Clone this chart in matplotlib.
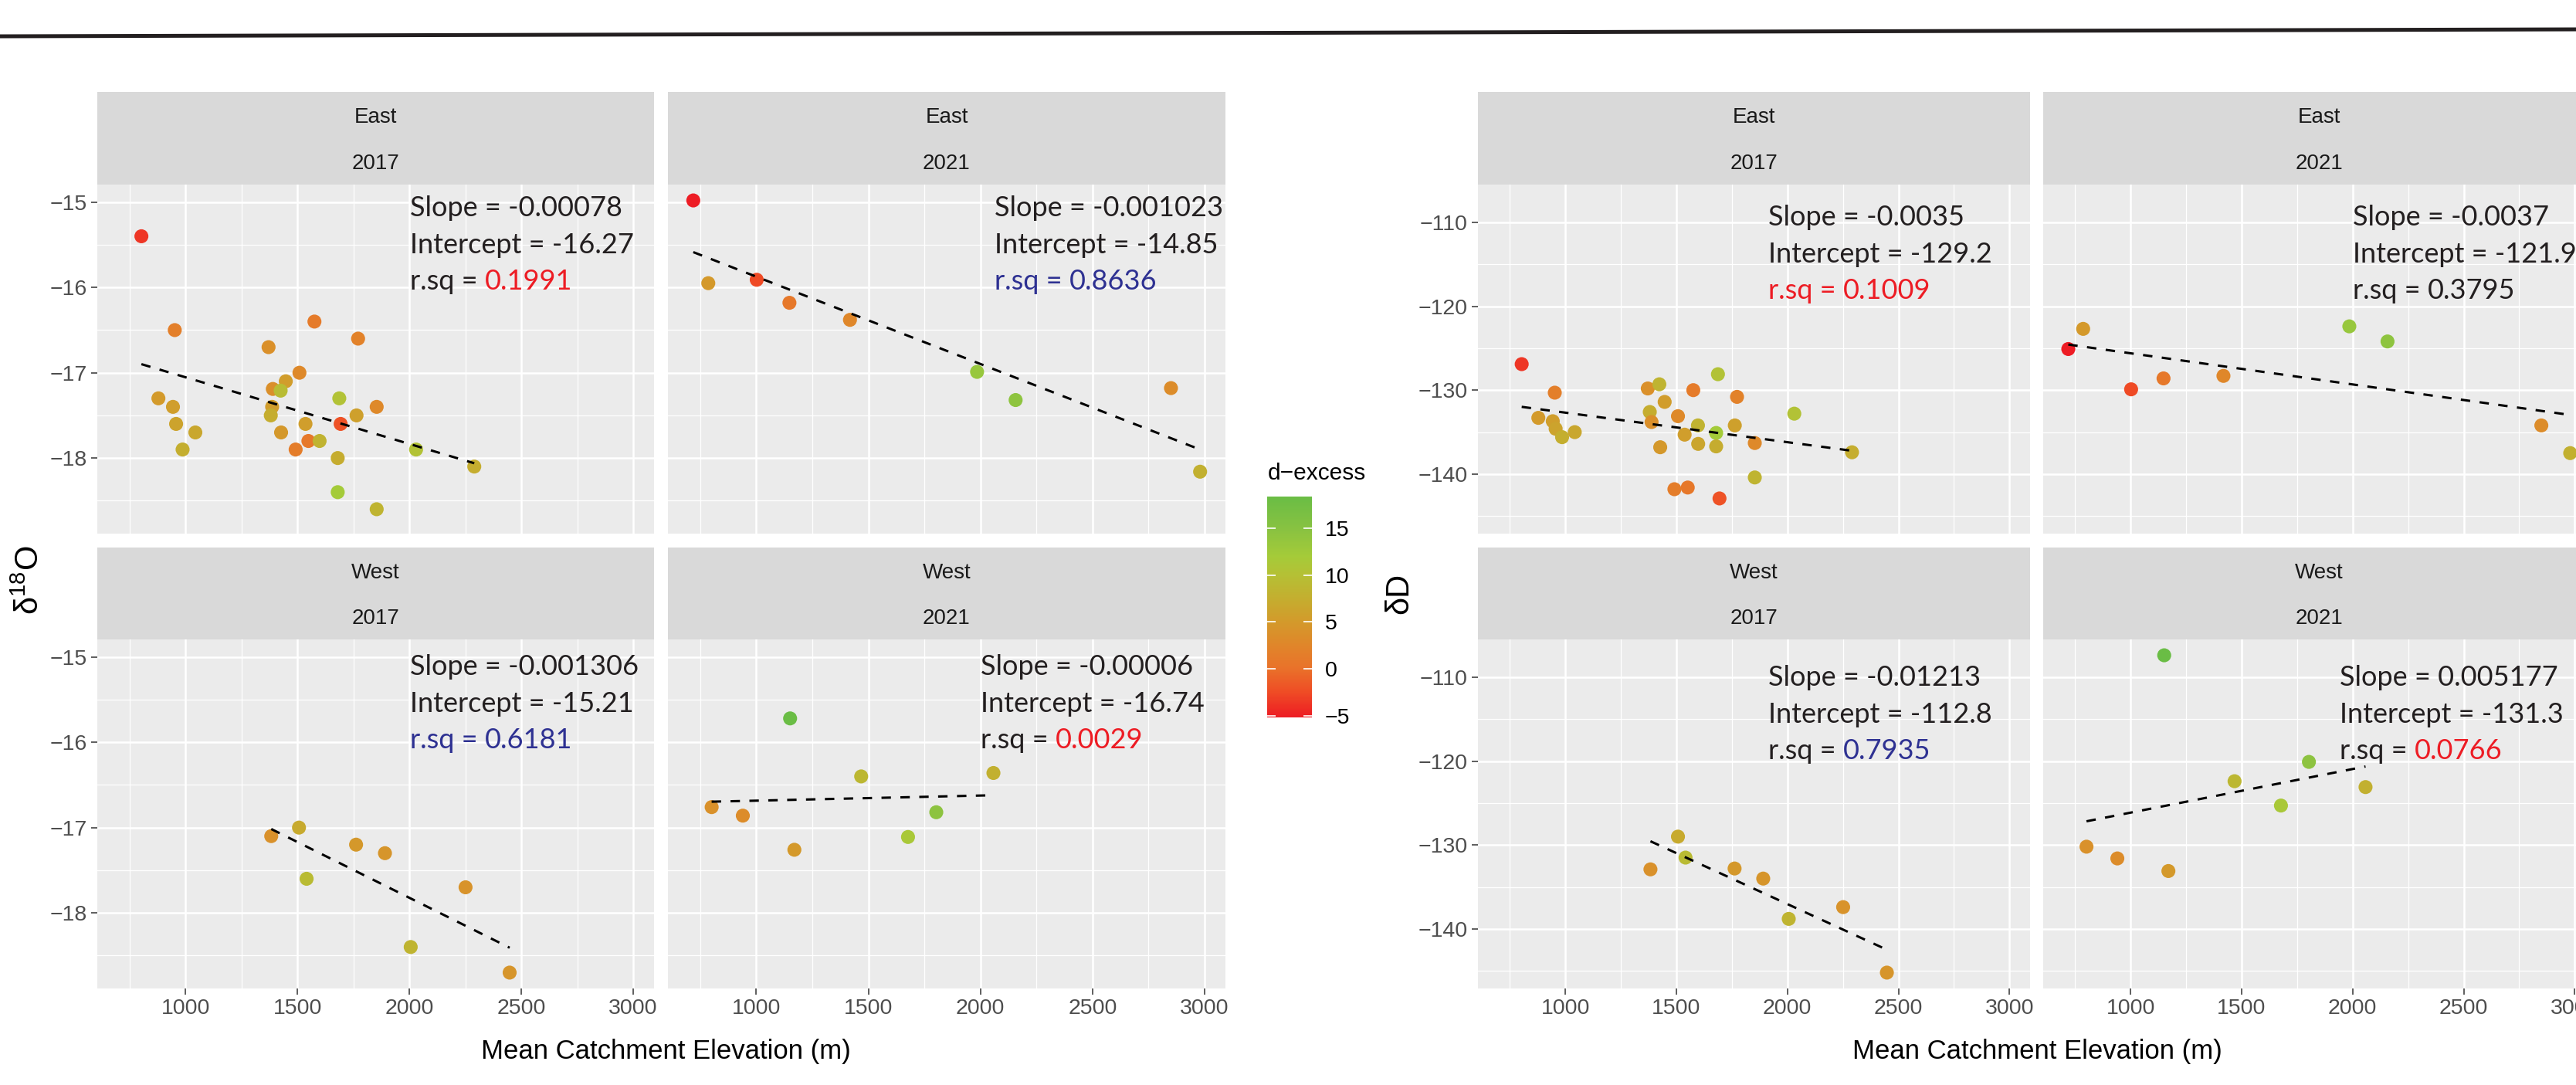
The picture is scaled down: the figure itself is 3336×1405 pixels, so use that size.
import numpy as np
import matplotlib
matplotlib.use('Agg')
import matplotlib.pyplot as plt
from matplotlib.colors import LinearSegmentedColormap, Normalize
from matplotlib.cm import ScalarMappable
from matplotlib.lines import Line2D

plt.rcParams['font.family'] = ['Liberation Sans', 'DejaVu Sans']
plt.rcParams['mathtext.fontset'] = 'custom'
plt.rcParams['mathtext.rm'] = 'Liberation Sans'

W, H = 3337, 1405

# ---- data ----------------------------------------------------------------
# East 2017 (d18O panel and dD panel carry the same samples)
elev_e17_o = [803, 952, 879, 944, 958, 1044, 987, 1371, 1576, 1771, 1509, 1448, 1390, 1425, 1387,
              1381, 1427, 1536, 1492, 1549, 1599, 1687, 1693, 1764, 1854, 1680, 1680, 1854, 2030, 2290]
d18o_e17 = [-15.40, -16.50, -17.30, -17.40, -17.60, -17.70, -17.90, -16.70, -16.40, -16.60, -17.00,
            -17.10, -17.19, -17.21, -17.40, -17.50, -17.70, -17.60, -17.90, -17.80, -17.80, -17.30,
            -17.60, -17.50, -17.40, -18.00, -18.40, -18.60, -17.90, -18.10]
dex_e17_o = [-3.7, 1.7, 5.1, 5.5, 6.2, 6.6, 7.6, 3.8, 1.2, 2.0, 2.9, 5.4, 3.7, 9.5, 5.4,
             7.4, 4.8, 5.5, 1.4, 0.8, 8.2, 10.3, -2.1, 5.8, 2.9, 7.3, 12.1, 8.4, 10.4, 7.4]

elev_e17_d = [803, 952, 878, 943, 956, 985, 1042, 1371, 1423, 1447, 1380, 1388, 1507, 1427, 1491,
              1551, 1537, 1576, 1597, 1598, 1679, 1679, 1687, 1694, 1773, 1763, 1853, 1853, 2031, 2291]
dD_e17 = [-126.9, -130.3, -133.3, -133.7, -134.6, -135.6, -135.0, -129.8, -129.3, -131.4, -132.6,
          -133.8, -133.1, -136.8, -141.8, -141.6, -135.3, -130.0, -134.2, -136.4, -135.1, -136.7,
          -128.1, -142.9, -130.8, -134.2, -136.3, -140.4, -132.8, -137.4]
dex_e17_d = [-3.7, 1.7, 5.1, 5.5, 6.2, 7.6, 6.6, 3.8, 8.4, 5.4, 7.4, 3.7, 2.9, 4.8, 1.4,
             0.8, 5.5, 1.2, 8.2, 6.5, 12.1, 7.3, 10.3, -2.1, 2.0, 5.8, 2.9, 8.4, 10.4, 7.4]

# East 2021
elev_e21 = [719, 786, 1002, 1148, 1418, 1985, 2157, 2850, 2980]
d18o_e21 = [-14.98, -15.95, -15.91, -16.18, -16.38, -16.99, -17.32, -17.18, -18.16]
dD_e21 = [-125.1, -122.7, -129.9, -128.6, -128.3, -122.4, -124.2, -134.2, -137.5]
dex_e21 = [-5.2, 4.9, -2.6, 0.8, 2.7, 13.5, 14.4, 3.2, 7.8]

# West 2017
elev_w17 = [1383, 1507, 1541, 1762, 1891, 2006, 2251, 2448]
d18o_w17 = [-17.10, -17.00, -17.60, -17.20, -17.30, -18.40, -17.70, -18.70]
dD_w17 = [-132.9, -129.0, -131.5, -132.8, -134.0, -138.8, -137.4, -145.2]
dex_w17 = [3.9, 7.0, 9.3, 4.8, 4.4, 8.4, 4.2, 4.4]

# West 2021
elev_w21 = [801, 940, 1151, 1170, 1468, 1677, 1803, 2058]
d18o_w21 = [-16.76, -16.86, -15.72, -17.26, -16.40, -17.11, -16.82, -16.36]
dD_w21 = [-130.2, -131.6, -107.4, -133.1, -122.4, -125.3, -120.1, -123.1]
dex_w21 = [3.9, 3.3, 18.4, 4.9, 8.8, 11.5, 14.5, 7.8]

# regression labels as printed on the figure
slope_o = ["Slope = -0.00078", "Slope = -0.001023", "Slope = -0.001306", "Slope = -0.00006"]
icept_o = ["Intercept = -16.27", "Intercept = -14.85", "Intercept = -15.21", "Intercept = -16.74"]
rsq_o = ["0.1991", "0.8636", "0.6181", "0.0029"]
slope_d = ["Slope = -0.0035", "Slope = -0.0037", "Slope = -0.01213", "Slope = 0.005177"]
icept_d = ["Intercept = -129.2", "Intercept = -121.9", "Intercept = -112.8", "Intercept = -131.3"]
rsq_d = ["0.1009", "0.3795", "0.7935", "0.0766"]

regions = ["East", "East", "West", "West"]
years = ["2017", "2021", "2017", "2021"]
x_breaks = [1000, 1500, 2000, 2500, 3000]
x_minor = [750, 1250, 1750, 2250, 2750]
o_breaks = [-18, -17, -16, -15]
o_minor = [-18.5, -17.5, -16.5, -15.5]
d_breaks = [-140, -130, -120, -110]
d_minor = [-145, -135, -125, -115]
cbar_breaks = [-5, 0, 5, 10, 15]

# gradient used for d-excess (value -> colour)
grad_vals = [-5.25, -2.5, 0, 2.5, 5, 7.5, 10, 12, 15, 18.4]
grad_cols = ['#ED1C24', '#EF4D25', '#E9722A', '#E0862A', '#D39A2B', '#C4AE2F',
             '#B5C035', '#A5CB39', '#88C241', '#6ABD45']

RED = '#ED1C24'
BLUE = '#2E3192'
INK = '#231F20'

# ---- colour scale ---------------------------------------------------------
all_dex = dex_e17_o + dex_e17_d + dex_e21 + dex_w17 + dex_w21
norm = Normalize(vmin=min(all_dex), vmax=max(all_dex))
span = grad_vals[-1] - grad_vals[0]
cmap = LinearSegmentedColormap.from_list(
    'dex', [((v - grad_vals[0]) / span, c) for v, c in zip(grad_vals, grad_cols)])


def box(x0, y0, x1, y1):
    """pixel box (origin top-left) -> figure rect"""
    return [x0 / W, 1 - y1 / H, (x1 - x0) / W, (y1 - y0) / H]


def expand(vals):
    lo, hi = min(vals), max(vals)
    pad = 0.05 * (hi - lo)
    return lo - pad, hi + pad


fig = plt.figure(figsize=(W / 100, H / 100), dpi=100)

strip_rows = [(119, 239), (709, 828)]
panel_rows = [(239, 691), (828, 1280)]


def draw_chart(cols, xs, ys, cs, ylim, ybreaks, yminor, slopes, icepts, rsqs, rsq_style, anchors):
    for k in range(4):
        r, c = k // 2, k % 2
        x0, x1 = cols[c]
        # strip
        sax = fig.add_axes(box(x0, strip_rows[r][0], x1, strip_rows[r][1]))
        sax.set_facecolor('#D9D9D9')
        sax.set_xticks([])
        sax.set_yticks([])
        for s in sax.spines.values():
            s.set_visible(False)
        sax.text(0.5, 0.75, regions[k], ha='center', va='center_baseline', fontsize=20, color='#1A1A1A',
                 transform=sax.transAxes)
        sax.text(0.5, 0.25, years[k], ha='center', va='center_baseline', fontsize=20, color='#1A1A1A',
                 transform=sax.transAxes)

        # panel
        ax = fig.add_axes(box(x0, panel_rows[r][0], x1, panel_rows[r][1]))
        ax.set_facecolor('#EBEBEB')
        for s in ax.spines.values():
            s.set_visible(False)
        ax.set_axisbelow(True)
        ax.set_xlim(*expand(elev_all))
        ax.set_ylim(*ylim)
        ax.set_xticks(x_breaks)
        ax.set_xticks(x_minor, minor=True)
        ax.set_yticks(ybreaks)
        ax.set_yticks(yminor, minor=True)
        ax.grid(which='major', color='white', lw=1.8)
        ax.grid(which='minor', color='white', lw=0.9)
        ax.tick_params(which='minor', length=0)
        ax.tick_params(which='major', length=5.5, width=1.1, color='#333333',
                       labelsize=20.5, labelcolor='#4D4D4D', pad=4)
        if c == 1:
            ax.tick_params(axis='y', which='major', length=0, labelleft=False)
        if r == 0:
            ax.tick_params(axis='x', which='major', length=0, labelbottom=False)

        ax.scatter(xs[k], ys[k], c=cs[k], cmap=cmap, norm=norm, s=170, edgecolors='none', zorder=3)

        # lm fit, dashed
        fit = np.polyfit(xs[k], ys[k], 1)
        xr = np.array([min(xs[k]), max(xs[k])])
        ax.plot(xr, np.polyval(fit, xr), color='black', lw=2.2, ls=(0, (4, 4)), zorder=4)

        # regression text
        ax_, ay_ = anchors[k]
        kw = dict(fontsize=26, family=['Lato', 'DejaVu Sans'], va='baseline', ha='left')
        fig.text(ax_ / W, 1 - ay_ / H, slopes[k], color=INK, **kw)
        fig.text(ax_ / W, 1 - (ay_ + 47.5) / H, icepts[k], color=INK, **kw)
        pre_col, num_col = rsq_style[k]
        t = fig.text(ax_ / W, 1 - (ay_ + 95) / H, "r.sq = ", color=pre_col, **kw)
        ax.annotate(rsqs[k], xy=(1, 0), xycoords=t, va='bottom', ha='left', color=num_col,
                    fontsize=26, family=['Lato', 'DejaVu Sans'], annotation_clip=False)


elev_all = elev_e17_o + elev_e17_d + elev_e21 + elev_w17 + elev_w21

# left chart: d18O
draw_chart(cols=[(126, 847), (865, 1587)],
           xs=[elev_e17_o, elev_e21, elev_w17, elev_w21],
           ys=[d18o_e17, d18o_e21, d18o_w17, d18o_w21],
           cs=[dex_e17_o, dex_e21, dex_w17, dex_w21],
           ylim=expand(d18o_e17 + d18o_e21 + d18o_w17 + d18o_w21),
           ybreaks=o_breaks, yminor=o_minor,
           slopes=slope_o, icepts=icept_o, rsqs=rsq_o,
           rsq_style=[(INK, RED), (BLUE, BLUE), (BLUE, BLUE), (INK, RED)],
           anchors=[(531, 280), (1288, 280), (531, 874), (1270, 874)])

# right chart: dD
draw_chart(cols=[(1914, 2629), (2646, 3361)],
           xs=[elev_e17_d, elev_e21, elev_w17, elev_w21],
           ys=[dD_e17, dD_e21, dD_w17, dD_w21],
           cs=[dex_e17_d, dex_e21, dex_w17, dex_w21],
           ylim=expand(dD_e17 + dD_e21 + dD_w17 + dD_w21),
           ybreaks=d_breaks, yminor=d_minor,
           slopes=slope_d, icepts=icept_d, rsqs=rsq_d,
           rsq_style=[(RED, RED), (INK, INK), (INK, BLUE), (INK, RED)],
           anchors=[(2290, 292), (3047, 292), (2290, 888), (3030, 888)])

# axis titles
fig.text(862 / W, 1 - 1358 / H, "Mean Catchment Elevation (m)", ha='center', va='center_baseline',
         fontsize=25, color='black')
fig.text(2638 / W, 1 - 1358 / H, "Mean Catchment Elevation (m)", ha='center', va='center_baseline',
         fontsize=25, color='black')
fig.text(39 / W, 1 - 751 / H, r'δ$^{\mathregular{18}}$O', rotation=90, ha='center', va='center',
         fontsize=30, color='black')
fig.text(1812 / W, 1 - 768 / H, 'δD', rotation=90, ha='center', va='center',
         fontsize=30, color='black')

# colourbar legend
cax = fig.add_axes(box(1641, 643, 1699, 929))
cb = fig.colorbar(ScalarMappable(norm=norm, cmap=cmap), cax=cax)
cb.outline.set_visible(False)
cb.set_ticks(cbar_breaks)
cax.tick_params(direction='in', color='white', length=8, width=1.2, left=True, right=True,
                labelsize=20.5, labelcolor='black', pad=12)
fig.text(1642 / W, 1 - 610 / H, "d\u2212excess", ha='left', va='center_baseline', fontsize=21.5,
         color='black')

# rule across the top
fig.add_artist(Line2D([0, 1], [1 - 47 / H, 1 - 38 / H], transform=fig.transFigure, color=INK, lw=3.6))

fig.savefig('out.png', dpi=100)
